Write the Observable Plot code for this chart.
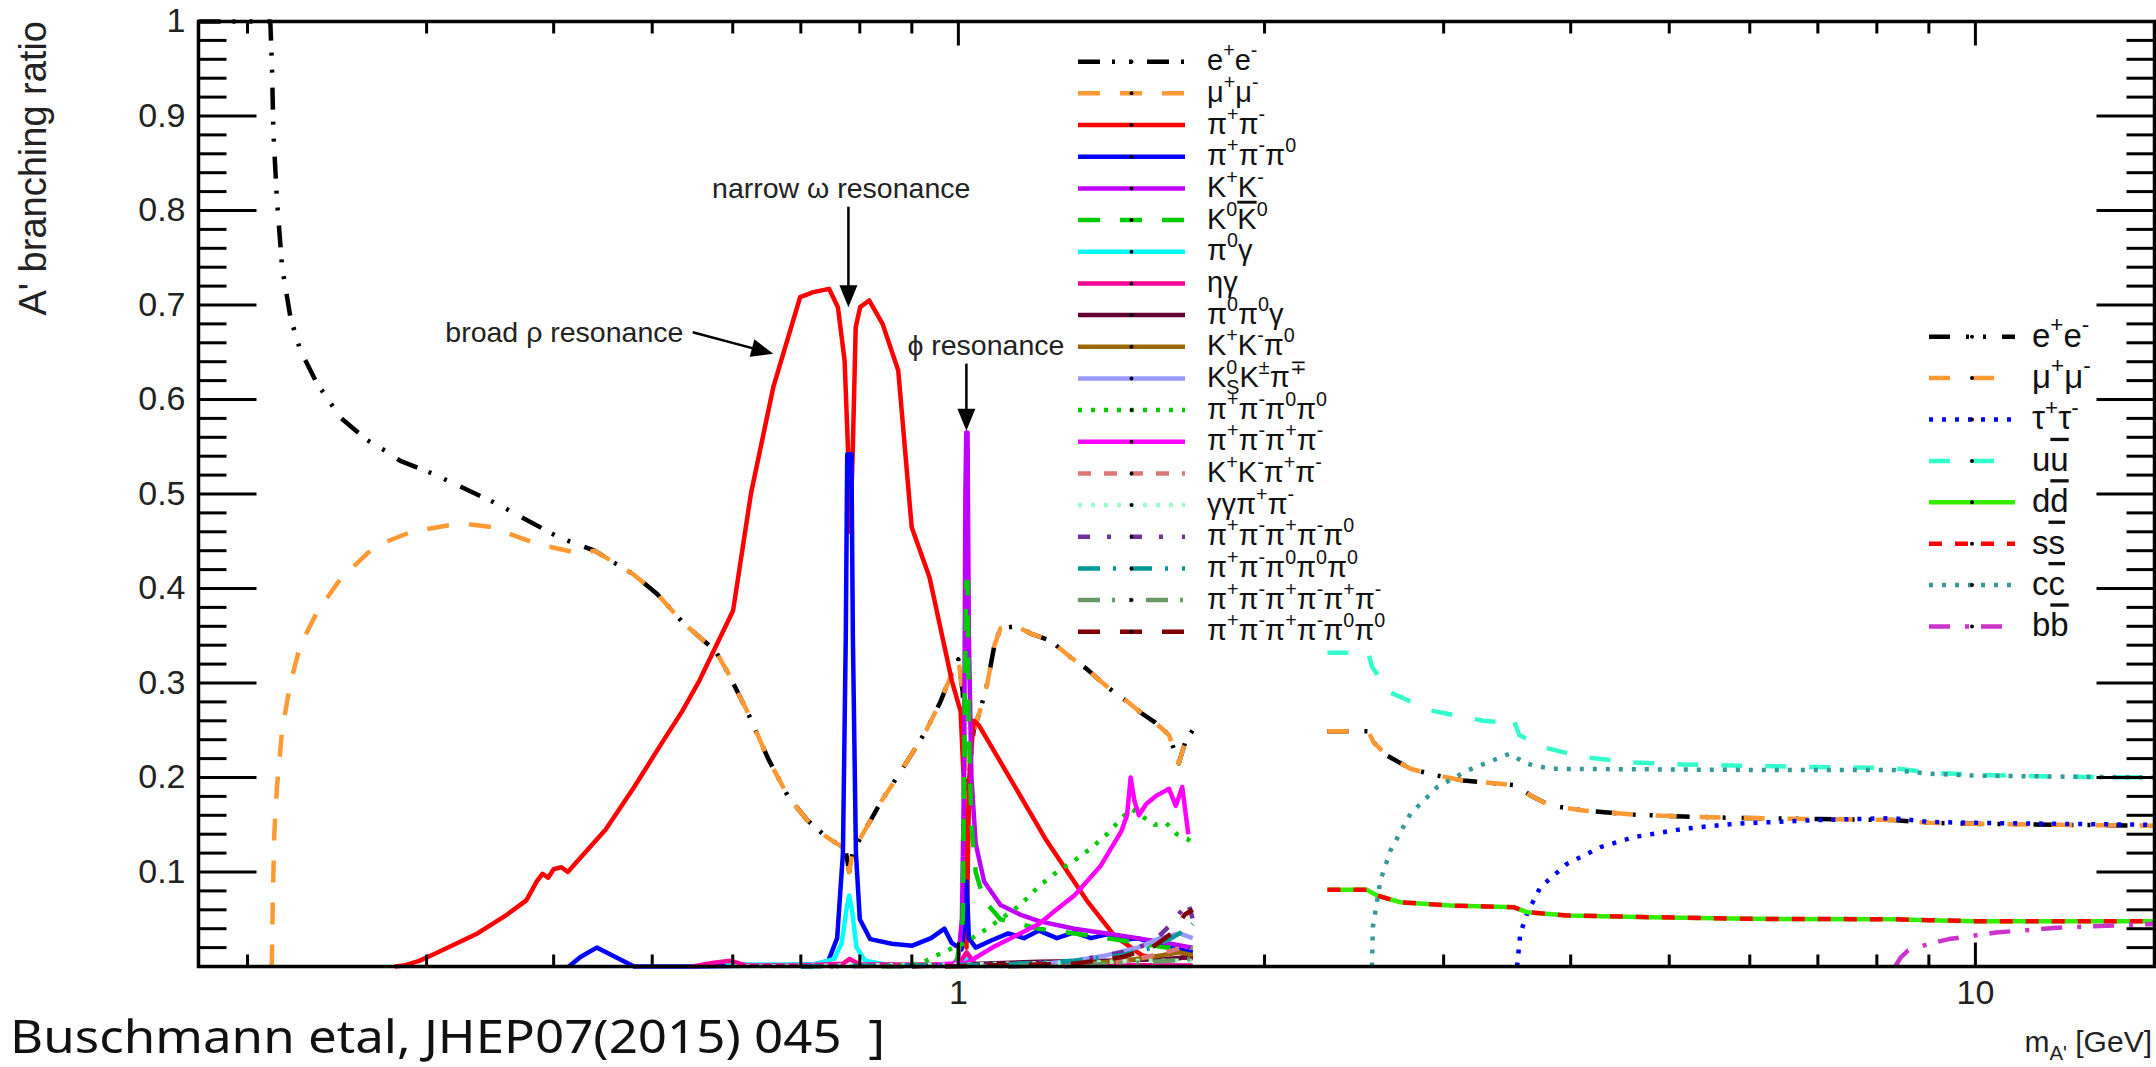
<!DOCTYPE html>
<html>
<head>
<meta charset="utf-8">
<script src="https://cdn.jsdelivr.net/npm/d3@7"></script>
<script src="https://cdn.jsdelivr.net/npm/@observablehq/plot@0.6"></script>
<style>
  html,body{margin:0;padding:0;background:#fff;}
  #chart{width:2156px;height:1067px;position:relative;}
</style>
</head>
<body>
<div id="chart"></div>
<script>
// ---------------- tick values / labels ----------------
const X_MAJOR = [1, 10];
const X_LABELS = ["1", "10"];
const X_MINOR = [0.2,0.3,0.4,0.5,0.6,0.7,0.8,0.9,2,3,4,5,6,7,8,9];
const Y_MAJOR = [0.1,0.2,0.3,0.4,0.5,0.6,0.7,0.8,0.9,1.0];
const Y_LABELS = ["0.1","0.2","0.3","0.4","0.5","0.6","0.7","0.8","0.9","1"];
const Y_MINOR = [0.02,0.04,0.06,0.08,0.12,0.14,0.16,0.18,0.22,0.24,0.26,0.28,0.32,0.34,0.36,0.38,
  0.42,0.44,0.46,0.48,0.52,0.54,0.56,0.58,0.62,0.64,0.66,0.68,0.72,0.74,0.76,0.78,
  0.82,0.84,0.86,0.88,0.92,0.94,0.96,0.98];

// ---------------- hadronic region (data driven), [mass GeV, BR] ----------------
const ee_low = [[0.179,1],[0.2106,1],[0.2114,0.952],[0.2121,0.881],[0.2138,0.811],[0.2163,0.74],[0.2204,0.687],
  [0.2254,0.652],[0.2341,0.617],[0.2468,0.581],[0.2622,0.557],[0.2729,0.546],[0.2827,0.535],[0.305,0.521],
  [0.3512,0.49],[0.405,0.454],[0.4388,0.44],[0.4783,0.4155],[0.5056,0.3943],[0.5373,0.3627],[0.5767,0.3344],
  [0.5943,0.3097],[0.62,0.27],[0.65,0.22],[0.68,0.18],[0.71,0.155],[0.74,0.138],[0.765,0.128],[0.775,0.122],
  [0.781,0.1],[0.787,0.12],[0.80,0.135],[0.82,0.155],[0.84,0.175],[0.87,0.2],[0.9,0.225],[0.93,0.25],
  [0.96,0.28],[0.985,0.31],[1.0,0.325],[1.01,0.29],[1.016,0.2],[1.019,0.13],[1.024,0.2],[1.035,0.25],
  [1.05,0.27],[1.068,0.3],[1.085,0.34],[1.1,0.358],[1.14,0.36],[1.18,0.352],[1.231,0.345],[1.29,0.327],
  [1.337,0.315],[1.38,0.302],[1.423,0.29],[1.468,0.28],[1.514,0.268],[1.562,0.258],[1.611,0.245],
  [1.647,0.215],[1.672,0.238],[1.7,0.25]];
const mumu_low = [[0.2113,0],[0.2118,0.07],[0.2125,0.14],[0.2138,0.19],[0.2163,0.25],[0.2204,0.30],
  [0.2254,0.34],[0.2341,0.375],[0.2468,0.41],[0.2622,0.437],[0.270,0.447],[0.29,0.46],[0.3145,0.4667],
  [0.33,0.468],[0.3478,0.4649],[0.3848,0.4473],[0.4259,0.4367],[0.4388,0.44],[0.4783,0.4155],[0.5056,0.3943],
  [0.5373,0.3627],[0.5767,0.3344],[0.5943,0.3097],[0.62,0.27],[0.65,0.22],[0.68,0.18],[0.71,0.155],
  [0.74,0.138],[0.765,0.128],[0.775,0.122],[0.781,0.1],[0.787,0.12],[0.80,0.135],[0.82,0.155],[0.84,0.175],
  [0.87,0.2],[0.9,0.225],[0.93,0.25],[0.96,0.28],[0.985,0.31],[1.0,0.325],[1.01,0.29],[1.016,0.2],
  [1.019,0.13],[1.024,0.2],[1.035,0.25],[1.05,0.27],[1.068,0.3],[1.085,0.34],[1.1,0.358],[1.14,0.36],
  [1.18,0.352],[1.231,0.345],[1.29,0.327],[1.337,0.315],[1.38,0.302],[1.423,0.29],[1.468,0.28],
  [1.514,0.268],[1.562,0.258],[1.611,0.245],[1.647,0.215],[1.672,0.238],[1.7,0.25]];
const pipi = [[0.2791,0],[0.285,0.001],[0.295,0.006],[0.306,0.0137],[0.3366,0.035],[0.36,0.055],[0.376,0.07],
  [0.385,0.09],[0.39,0.098],[0.395,0.094],[0.40,0.103],[0.407,0.105],[0.413,0.1],[0.425,0.115],[0.45,0.145],
  [0.48,0.19],[0.51,0.235],[0.535,0.27],[0.5564,0.3026],[0.6005,0.3767],[0.6252,0.5002],[0.6577,0.613],
  [0.6989,0.7083],[0.7201,0.7136],[0.7462,0.7171],[0.7613,0.6977],[0.7729,0.6413],[0.7792,0.5426],
  [0.7825,0.46],[0.7872,0.5426],[0.7926,0.6765],[0.8006,0.6977],[0.8171,0.7048],[0.8423,0.68],
  [0.8727,0.6307],[0.8997,0.4649],[0.9367,0.412],[0.9852,0.3026],[1.005,0.27],[1.012,0.2],[1.0185,0.02],
  [1.025,0.2],[1.035,0.26],[1.048,0.255],[1.109,0.21],[1.218,0.135],[1.337,0.07],[1.423,0.033],
  [1.514,0.012],[1.6,0.006],[1.672,0.01],[1.7,0.008]];
const pi3 = [[0.414,0],[0.425,0.01],[0.441,0.02],[0.46,0.01],[0.48,0],[0.55,0],[0.65,0.001],[0.72,0.002],
  [0.745,0.006],[0.76,0.03],[0.77,0.12],[0.775,0.35],[0.7775,0.542],[0.785,0.542],[0.7875,0.35],[0.793,0.12],
  [0.80,0.05],[0.819,0.029],[0.86,0.024],[0.901,0.022],[0.94,0.03],[0.969,0.04],[0.985,0.025],[1.007,0.018],
  [1.015,0.05],[1.019,0.09],[1.024,0.03],[1.04,0.02],[1.08,0.028],[1.12,0.035],[1.16,0.03],[1.2,0.038],
  [1.25,0.03],[1.3,0.036],[1.35,0.03],[1.4,0.034],[1.45,0.028],[1.5,0.03],[1.55,0.025],[1.6,0.022],
  [1.65,0.018],[1.7,0.015]];
const KK = [[0.987,0],[1.0,0.01],[1.008,0.05],[1.013,0.2],[1.016,0.5],[1.018,0.565],[1.021,0.565],[1.024,0.35],
  [1.03,0.2],[1.04,0.13],[1.06,0.09],[1.1,0.065],[1.15,0.055],[1.2,0.048],[1.3,0.04],[1.4,0.035],[1.5,0.03],
  [1.6,0.025],[1.7,0.02]];
const K0K0 = [[0.995,0],[1.01,0.05],[1.015,0.3],[1.018,0.407],[1.021,0.407],[1.024,0.25],[1.03,0.15],[1.04,0.1],
  [1.06,0.07],[1.1,0.05],[1.2,0.04],[1.3,0.035],[1.4,0.03],[1.5,0.025],[1.6,0.02],[1.7,0.02]];
const pi0g = [[0.59,0.002],[0.66,0.002],[0.72,0.002],[0.755,0.008],[0.768,0.025],[0.776,0.06],[0.781,0.075],
  [0.786,0.06],[0.794,0.02],[0.81,0.006],[0.85,0.002],[0.9,0.001],[1.0,0.001],[1.016,0.006],[1.019,0.012],
  [1.023,0.004],[1.05,0.001],[1.7,0.0005]];
const etag = [[0.548,0],[0.575,0.004],[0.597,0.006],[0.62,0.001],[0.7,0.001],[0.77,0.003],[0.782,0.008],
  [0.8,0.002],[1.0,0.002],[1.019,0.015],[1.04,0.002],[1.7,0.001]];
const pi0pi0g = [[0.9,0],[1.05,0.003],[1.2,0.005],[1.4,0.006],[1.6,0.008],[1.7,0.01]];
const KKpi0 = [[1.12,0],[1.3,0.002],[1.45,0.006],[1.55,0.01],[1.65,0.015],[1.7,0.012]];
const K0sKpi = [[1.13,0],[1.3,0.006],[1.4,0.012],[1.5,0.02],[1.58,0.03],[1.65,0.035],[1.7,0.03]];
const pi4n = [[0.85,0],[0.918,0.003],[0.945,0.01],[0.975,0.017],[1.01,0.024],[1.035,0.031],[1.05,0.035],
  [1.1,0.05],[1.15,0.065],[1.2,0.085],[1.25,0.1],[1.3,0.112],[1.35,0.125],[1.4,0.14],[1.45,0.158],
  [1.48,0.167],[1.52,0.158],[1.56,0.15],[1.6,0.152],[1.64,0.14],[1.68,0.135],[1.7,0.13]];
const pi4c = [[0.95,0.002],[1.02,0.004],[1.08,0.02],[1.15,0.035],[1.2,0.045],[1.256,0.0625],[1.3,0.075],
  [1.379,0.106],[1.446,0.143],[1.465,0.16],[1.477,0.2],[1.49,0.175],[1.505,0.16],[1.53,0.172],[1.562,0.18],
  [1.611,0.188],[1.636,0.17],[1.66,0.19],[1.683,0.14]];
const KKpipi = [[1.27,0],[1.4,0.003],[1.5,0.008],[1.6,0.015],[1.68,0.022],[1.7,0.02]];
const ggpipi = [[0.6,0],[1.0,0.002],[1.3,0.004],[1.5,0.006],[1.7,0.006]];
const pi5c = [[0.7,0],[1.1,0.002],[1.3,0.006],[1.45,0.015],[1.55,0.025],[1.62,0.045],[1.66,0.06],[1.68,0.07],[1.7,0.05]];
const pi5n = [[0.7,0],[1.1,0.002],[1.3,0.006],[1.45,0.012],[1.55,0.02],[1.62,0.03],[1.68,0.04],[1.7,0.045]];
const pi6c = [[0.84,0],[1.3,0.001],[1.5,0.004],[1.7,0.008]];
const pi6n = [[0.97,0],[1.3,0.003],[1.45,0.01],[1.55,0.02],[1.62,0.035],[1.67,0.055],[1.7,0.06]];

// ---------------- perturbative region, [mass GeV, BR] ----------------
const ee_high = [[2.306,0.249],[2.53,0.249],[2.559,0.2374],[2.639,0.2233],[2.783,0.2092],[2.956,0.2021],
  [3.138,0.1968],[3.412,0.1933],[3.543,0.1915],[3.651,0.181],[3.82,0.1704],[4.118,0.165],[4.61,0.1608],
  [5.164,0.1587],[5.781,0.1573],[7,0.156],[8.3,0.155],[9,0.152],[10,0.151],[12,0.15],[15,0.149]];
const mumu_high = [[2.306,0.249],[2.53,0.249],[2.559,0.2374],[2.639,0.2233],[2.783,0.2092],[2.956,0.2021],
  [3.138,0.1968],[3.412,0.1933],[3.543,0.1915],[3.651,0.181],[3.82,0.1704],[4.118,0.165],[4.61,0.1608],
  [5.164,0.1587],[5.781,0.1573],[7,0.156],[8.3,0.155],[9,0.152],[10,0.151],[12,0.15],[15,0.149]];
const tautau = [[3.543,0],[3.569,0.035],[3.624,0.056],[3.735,0.084],[3.968,0.1087],[4.279,0.1263],[4.61,0.1368],
  [5.164,0.1457],[5.781,0.151],[7,0.155],[8.3,0.157],[9,0.153],[10,0.152],[12,0.151],[15,0.15]];
const uu = [[2.306,0.332],[2.53,0.332],[2.551,0.317],[2.66,0.29],[2.911,0.271],[3.283,0.26],[3.48,0.258],
  [3.513,0.262],[3.56,0.245],[3.76,0.232],[4.118,0.2215],[4.61,0.216],[5.164,0.2138],[5.781,0.2127],
  [7,0.211],[8.3,0.21],[9,0.205],[10,0.203],[12,0.201],[15,0.2]];
const dd = [[2.306,0.0811],[2.523,0.0811],[2.58,0.0751],[2.72,0.068],[3.047,0.0645],[3.513,0.0628],
  [3.624,0.0575],[3.968,0.054],[4.79,0.0522],[6.008,0.0504],[8.3,0.05],[9,0.049],[10,0.048],[15,0.048]];
const ss = [[2.306,0.0811],[2.523,0.0811],[2.58,0.0751],[2.72,0.068],[3.047,0.0645],[3.513,0.0628],
  [3.624,0.0575],[3.968,0.054],[4.79,0.0522],[6.008,0.0504],[8.3,0.05],[9,0.049],[10,0.048],[15,0.048]];
const cc = [[2.551,0],[2.556,0.0416],[2.60,0.091],[2.66,0.1228],[2.783,0.1616],[2.956,0.1897],[3.164,0.2074],
  [3.48,0.225],[3.624,0.2145],[3.82,0.2092],[6.0,0.208],[8.3,0.208],[9,0.204],[10,0.202],[12,0.201],[15,0.2]];
const bb = [[8.34,0],[8.45,0.01],[8.59,0.017],[9.0,0.024],[9.42,0.029],[10.48,0.036],[12.02,0.041],[15,0.045]];

// ---------------- annotations ----------------
const NOTES_START = [
  {text: "broad ρ resonance", m: 0.313, br: 0.671},
  {text: "ϕ resonance", m: 0.891, br: 0.657}
];
const NOTES_MIDDLE = [
  {text: "narrow ω resonance", m: 0.767, br: 0.823}
];
const SHAFTS = [
  {m1: 0.7796, b1: 0.804, m2: 0.7796, b2: 0.712},
  {m1: 0.548, b1: 0.6712, m2: 0.6365, b2: 0.6525},
  {m1: 1.0183, b1: 0.638, m2: 1.0183, b2: 0.58}
];
const HEADS = [
  {m: 0.7796, br: 0.6977, angle: 180},
  {m: 0.6577, br: 0.6484, angle: 105},
  {m: 1.0183, br: 0.567, angle: 180}
];

// ---------------- styles ----------------
const STYLE = {
  ee: {stroke: "#000000", dash: "22,12,3,14,3,15"},
  mumu: {stroke: "#ff9933", dash: "22,20"},
  pipi: {stroke: "#ff0000"},
  pi3: {stroke: "#0000ff"},
  KK: {stroke: "#bf00ff"},
  K0K0: {stroke: "#00cc00", dash: "22,20"},
  pi0g: {stroke: "#00ffff"},
  etag: {stroke: "#ff0099"},
  pi0pi0g: {stroke: "#660033"},
  KKpi0: {stroke: "#996600"},
  K0sKpi: {stroke: "#9999ff"},
  pi4n: {stroke: "#00cc00", dash: "4,9"},
  pi4c: {stroke: "#ff00ff"},
  KKpipi: {stroke: "#dd7777", dash: "13,13"},
  ggpipi: {stroke: "#99ffcc", dash: "4,9"},
  pi5c: {stroke: "#7030a0", dash: "12,17,4,19"},
  pi5n: {stroke: "#009999", dash: "22,13,3,14"},
  pi6c: {stroke: "#669966", dash: "22,12,3,14,3,14"},
  pi6n: {stroke: "#800000", dash: "22,20"},
  ee2: {stroke: "#000000", dash: "21,16,3,14,3,16"},
  mumu2: {stroke: "#ff9933", dash: "21,23"},
  tautau: {stroke: "#0000ff", dash: "4,9"},
  uu: {stroke: "#33ffcc", dash: "21,23"},
  dd: {stroke: "#33ee00"},
  ss: {stroke: "#ff0000", dash: "13,13"},
  cc: {stroke: "#339999", dash: "4,9"},
  bb: {stroke: "#cc33cc", dash: "21,15,4,12"}
};

const DRAW = [
  [ee_low, "ee"], [mumu_low, "mumu"], [pipi, "pipi"], [pi3, "pi3"], [KK, "KK"], [K0K0, "K0K0"],
  [pi0g, "pi0g"], [etag, "etag"], [pi0pi0g, "pi0pi0g"], [KKpi0, "KKpi0"], [K0sKpi, "K0sKpi"],
  [pi4n, "pi4n"], [pi4c, "pi4c"], [KKpipi, "KKpipi"], [ggpipi, "ggpipi"], [pi5c, "pi5c"], [pi5n, "pi5n"],
  [pi6c, "pi6c"], [pi6n, "pi6n"],
  [ee_high, "ee2"], [mumu_high, "mumu2"], [tautau, "tautau"], [uu, "uu"], [dd, "dd"], [ss, "ss"],
  [cc, "cc"], [bb, "bb"]
];

const LEGEND_LEFT = [
  ["ee", "e^{+}e^{-}"], ["mumu", "μ^{+}μ^{-}"], ["pipi", "π^{+}π^{-}"], ["pi3", "π^{+}π^{-}π^{0}"],
  ["KK", "K^{+}K^{-}"], ["K0K0", "K^{0}#bar{K}^{0}"], ["pi0g", "π^{0}γ"], ["etag", "ηγ"],
  ["pi0pi0g", "π^{0}π^{0}γ"], ["KKpi0", "K^{+}K^{-}π^{0}"], ["K0sKpi", "K^{0}_{S}K^{±}π^{∓}"],
  ["pi4n", "π^{+}π^{-}π^{0}π^{0}"], ["pi4c", "π^{+}π^{-}π^{+}π^{-}"], ["KKpipi", "K^{+}K^{-}π^{+}π^{-}"],
  ["ggpipi", "γγπ^{+}π^{-}"], ["pi5c", "π^{+}π^{-}π^{+}π^{-}π^{0}"], ["pi5n", "π^{+}π^{-}π^{0}π^{0}π^{0}"],
  ["pi6c", "π^{+}π^{-}π^{+}π^{-}π^{+}π^{-}"], ["pi6n", "π^{+}π^{-}π^{+}π^{-}π^{0}π^{0}"]
];
const LEGEND_RIGHT = [
  ["ee2", "e^{+}e^{-}"], ["mumu2", "μ^{+}μ^{-}"], ["tautau", "τ^{+}τ^{-}"], ["uu", "u#bar{u}"],
  ["dd", "d#bar{d}"], ["ss", "s#bar{s}"], ["cc", "c#bar{c}"], ["bb", "b#bar{b}"]
];

const FONT = "'Liberation Sans', Arial, Helvetica, sans-serif";
const LW = 4.5;

const tickShape = {draw(ctx, l) { ctx.moveTo(0, 0); ctx.lineTo(0, -l); }};
function ticksY(vals, len, side) {
  return Plot.vector(vals, {y: d => d, frameAnchor: side, length: len, rotate: side === "left" ? 90 : -90,
    anchor: "start", shape: tickShape, stroke: "black", strokeWidth: 3, strokeLinecap: "butt"});
}
function ticksX(vals, len, side) {
  return Plot.vector(vals, {x: d => d, frameAnchor: side, length: len, rotate: side === "bottom" ? 0 : 180,
    anchor: "start", shape: tickShape, stroke: "black", strokeWidth: 3, strokeLinecap: "butt"});
}

const lineMarks = DRAW.map(([data, key]) => Plot.line(data, {
  x: d => d[0], y: d => d[1], stroke: STYLE[key].stroke, strokeWidth: LW,
  strokeDasharray: STYLE[key].dash, strokeLinecap: "butt", strokeLinejoin: "round"
}));

const chart = Plot.plot({
  width: 2156, height: 1067,
  marginLeft: 198, marginRight: 2, marginTop: 21, marginBottom: 101,
  x: {type: "log", domain: [0.179, 15], axis: null},
  y: {domain: [0, 1], axis: null},
  style: {fontFamily: FONT, background: "white", color: "black"},
  marks: [
    ...lineMarks,
    Plot.frame({stroke: "black", strokeWidth: 3.5}),
    ticksY(Y_MAJOR, 58, "left"), ticksY(Y_MINOR, 28, "left"),
    ticksY(Y_MAJOR, 58, "right"), ticksY(Y_MINOR, 28, "right"),
    ticksX(X_MAJOR, 24, "bottom"), ticksX(X_MINOR, 12, "bottom"),
    ticksX(X_MAJOR, 24, "top"), ticksX(X_MINOR, 12, "top"),
    Plot.text(Y_MAJOR, {y: d => d, text: (d, i) => Y_LABELS[i], frameAnchor: "left", textAnchor: "end",
      dx: -13, fontSize: 34, fill: "#222"}),
    Plot.text(X_MAJOR, {x: d => d, text: (d, i) => X_LABELS[i], frameAnchor: "bottom", dy: 37,
      fontSize: 34, fill: "#222"}),
    Plot.link(SHAFTS, {x1: "m1", y1: "b1", x2: "m2", y2: "b2", stroke: "black", strokeWidth: 2.5}),
    Plot.vector(HEADS, {x: "m", y: "br", rotate: "angle", length: 22, r: 9, shape: "spike",
      anchor: "end", fill: "black", stroke: "none"}),
    Plot.text(NOTES_START, {x: "m", y: "br", text: "text", textAnchor: "start", fontSize: 28.5, fill: "#222"}),
    Plot.text(NOTES_MIDDLE, {x: "m", y: "br", text: "text", textAnchor: "middle", fontSize: 28.5, fill: "#222"})
  ]
});
document.getElementById("chart").appendChild(chart);

// ---------------- rich text helper ----------------
function addRich(textSel, str, fs) {
  const re = /\^\{([^}]*)\}|_\{([^}]*)\}|#bar\{([^}]*)\}|([^\^_#]+)/g;
  let m, shift = 0, prevSup = null;
  while ((m = re.exec(str))) {
    let target = 0, size = fs, txt, bar = false, dx = 0;
    if (m[1] !== undefined) { txt = m[1]; target = -0.45 * fs; size = 0.68 * fs; }
    else if (m[2] !== undefined) { txt = m[2]; target = 0.25 * fs; size = 0.68 * fs;
      if (prevSup) dx = -prevSup.getComputedTextLength(); }
    else if (m[3] !== undefined) { txt = m[3]; bar = true; }
    else { txt = m[4]; }
    const t = textSel.append("tspan").attr("font-size", size).attr("dy", target - shift).text(txt);
    if (dx) t.attr("dx", dx);
    if (bar) t.style("text-decoration", "overline");
    prevSup = m[1] !== undefined ? t.node() : null;
    shift = target;
  }
}

const svg = d3.select(chart);
function drawLegend(entries, x1, x2, tx, y0, dy, fs) {
  const g = svg.append("g");
  entries.forEach(([key, label], i) => {
    const y = y0 + i * dy;
    const st = STYLE[key];
    const ln = g.append("line").attr("x1", x1).attr("x2", x2).attr("y1", y).attr("y2", y)
      .attr("stroke", st.stroke).attr("stroke-width", LW);
    if (st.dash) ln.attr("stroke-dasharray", st.dash);
    g.append("circle").attr("cx", (x1 + x2) / 2).attr("cy", y).attr("r", 2).attr("fill", "#000");
    const t = g.append("text").attr("x", tx).attr("y", y + 0.3 * fs).attr("font-size", fs)
      .attr("text-anchor", "start").attr("font-family", FONT).attr("fill", "#111");
    addRich(t, label, fs);
  });
}
drawLegend(LEGEND_LEFT, 1078, 1185, 1207, 61.7, 31.67, 29);
drawLegend(LEGEND_RIGHT, 1929, 2015, 2032, 336.7, 41.4, 33);

// axis titles and caption
svg.append("text").attr("transform", "translate(46,21) rotate(-90)").attr("text-anchor", "end")
  .attr("font-family", FONT).attr("font-size", 38).attr("fill", "#222").text("A' branching ratio");
const xl = svg.append("text").attr("x", 2152).attr("y", 1052).attr("text-anchor", "end")
  .attr("font-family", FONT).attr("font-size", 30).attr("fill", "#222");
addRich(xl, "m_{A'} [GeV]", 30);
svg.append("text").attr("x", 10).attr("y", 1053).attr("text-anchor", "start")
  .attr("font-family", "'Noto Sans', sans-serif").attr("font-size", 46)
  .attr("textLength", 875).attr("lengthAdjust", "spacingAndGlyphs")
  .attr("fill", "#111").text("Buschmann etal, JHEP07(2015) 045\u00a0\u00a0]");
</script>
</body>
</html>
